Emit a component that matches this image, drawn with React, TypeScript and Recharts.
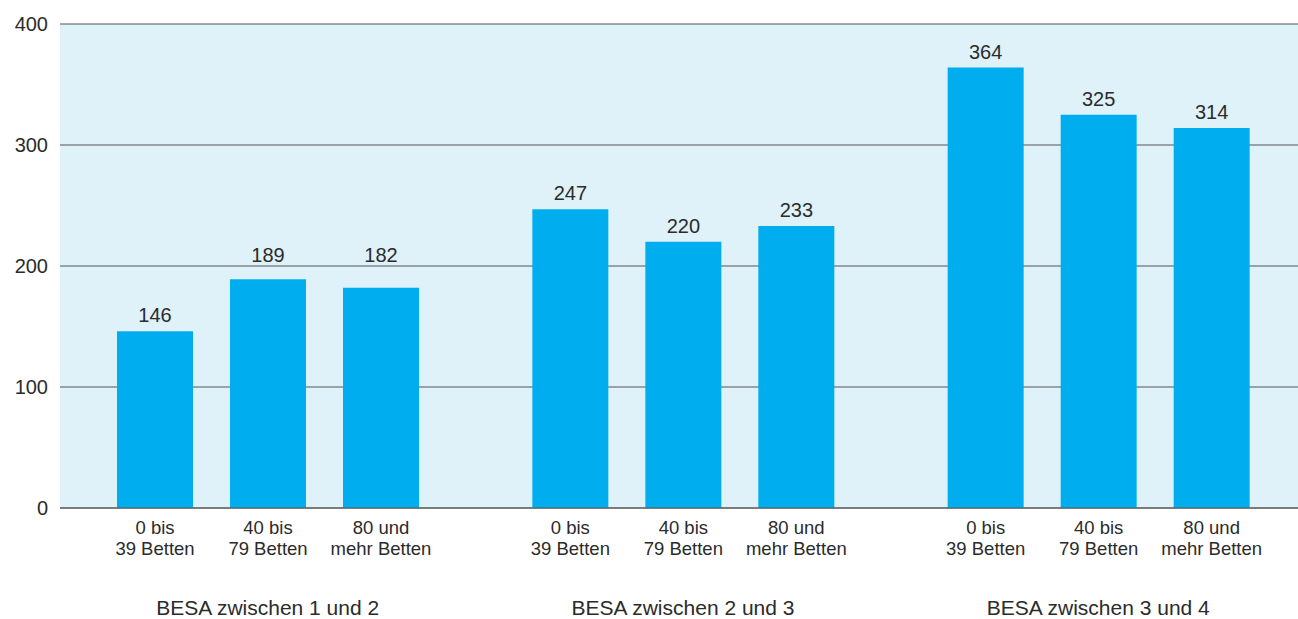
import { BarChart, Bar, XAxis, YAxis, CartesianGrid, LabelList } from "recharts";

const groups = ["BESA zwischen 1 und 2", "BESA zwischen 2 und 3", "BESA zwischen 3 und 4"];
const small = [146, 247, 364];
const medium = [189, 220, 325];
const large = [182, 233, 314];
const sizeLabels = [
  ["0 bis", "39 Betten"],
  ["40 bis", "79 Betten"],
  ["80 und", "mehr Betten"],
];
const yTicks = [0, 100, 200, 300, 400];

const data = groups.map((g, i) => ({ group: g, small: small[i], medium: medium[i], large: large[i] }));

const FONT = "'Liberation Sans', Arial, Helvetica, sans-serif";
const TEXT = "#2b2b2b";
const BAR = "#00aeef";

// two-line label under each bar, positioned from the bar's own geometry
function sizeLabel(lines: string[]) {
  return (props: any) => {
    const { x, y, width, height } = props;
    const cx = Number(x) + Number(width) / 2;
    const bottom = Number(y) + Number(height);
    return (
      <text x={cx} textAnchor="middle" fontSize={18.5} fontFamily={FONT} fill={TEXT}>
        <tspan x={cx} y={bottom + 26}>{lines[0]}</tspan>
        <tspan x={cx} y={bottom + 47}>{lines[1]}</tspan>
      </text>
    );
  };
}

// value above the bar; nudged above a grid line when it would sit on one
function ValueLabel(props: any) {
  const { x, y, width, height, value } = props;
  const top = Number(y);
  const zero = top + Number(height);
  const perUnit = Number(height) / Number(value);
  let base = top - 9;
  for (const t of yTicks) {
    const gy = zero - t * perUnit;
    if (gy > base - 16 && gy < base + 2) base = gy - 4;
  }
  return (
    <text x={Number(x) + Number(width) / 2} y={base} textAnchor="middle" fontSize={20} fontFamily={FONT} fill={TEXT}>
      {value}
    </text>
  );
}

function GroupTick(props: any) {
  const { x, y, payload } = props;
  return (
    <text x={x} y={y + 107} textAnchor="middle" fontSize={21} fontFamily={FONT} fill={TEXT}>
      {payload.value}
    </text>
  );
}

export default function App() {
  const keys = ["small", "medium", "large"];
  return (
    <div style={{ position: "absolute", left: 0, top: 0, width: 1298, height: 619, overflow: "hidden", background: "#fff" }}>
      <BarChart
        width={1306}
        height={619}
        data={data}
        margin={{ top: 24, right: 0, left: 0, bottom: 0 }}
        barGap={37}
      >
        <CartesianGrid vertical={false} fill="#dff2fa" stroke="#555" strokeWidth={1.2} />
        <XAxis
          dataKey="group"
          height={111}
          tickLine={false}
          tickSize={0}
          tickMargin={0}
          axisLine={{ stroke: "#555", strokeWidth: 1.2 }}
          tick={<GroupTick />}
          interval={0}
        />
        <YAxis
          width={60}
          domain={[0, 400]}
          ticks={yTicks}
          axisLine={false}
          tickLine={false}
          tickSize={0}
          tickMargin={12}
          tick={{ fontSize: 20, fontFamily: FONT, fill: TEXT }}
        />
        {keys.map((k, i) => (
          <Bar key={k} dataKey={k} fill={BAR} barSize={76} isAnimationActive={false}>
            <LabelList dataKey={k} content={<ValueLabel />} />
            <LabelList dataKey={k} content={sizeLabel(sizeLabels[i])} />
          </Bar>
        ))}
      </BarChart>
    </div>
  );
}
